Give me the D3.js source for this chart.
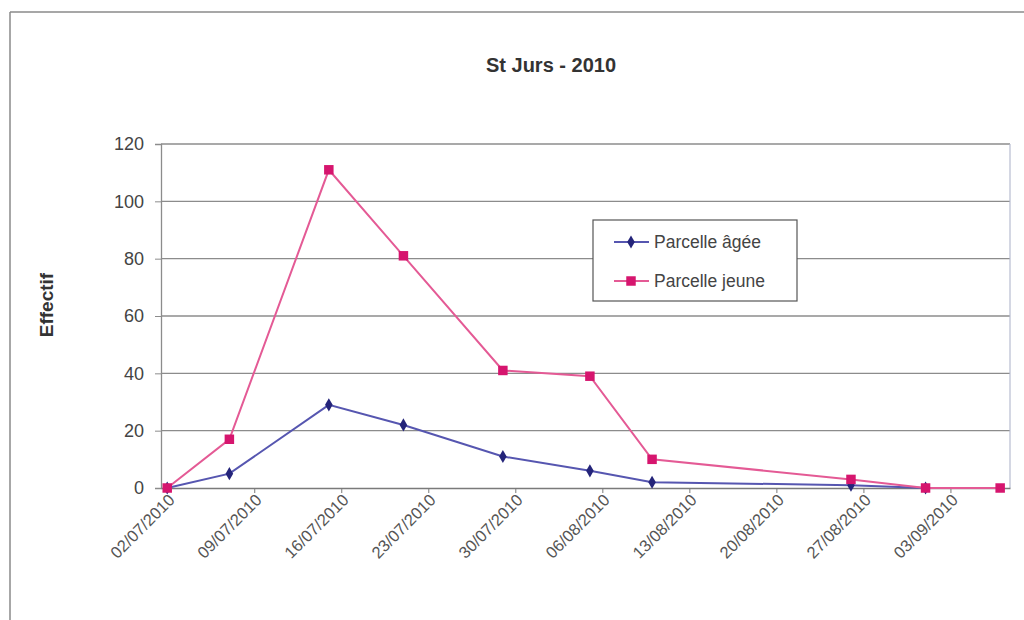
<!DOCTYPE html>
<html>
<head>
<meta charset="utf-8">
<script src="https://cdn.jsdelivr.net/npm/d3@7/dist/d3.min.js"></script>
<style>
  html, body { margin: 0; padding: 0; background: #fff; }
  svg { display: block; }
  text { font-family: Arial, "Liberation Sans", sans-serif; }
</style>
</head>
<body>
<svg id="chart" width="1024" height="620"></svg>
<script>
// ---- data ----
const title = "St Jurs - 2010";
const yLabel = "Effectif";
const seriesNames = ["Parcelle âgée", "Parcelle jeune"];
const datesAgee = ["2010-07-02","2010-07-07","2010-07-15","2010-07-21","2010-07-29","2010-08-05","2010-08-10","2010-08-26","2010-09-01"];
const valuesAgee = [0, 5, 29, 22, 11, 6, 2, 1, 0];
const datesJeune = ["2010-07-02","2010-07-07","2010-07-15","2010-07-21","2010-07-29","2010-08-05","2010-08-10","2010-08-26","2010-09-01","2010-09-07"];
const valuesJeune = [0, 17, 111, 81, 41, 39, 10, 3, 0, 0];
const xTickDates = ["2010-07-02","2010-07-09","2010-07-16","2010-07-23","2010-07-30","2010-08-06","2010-08-13","2010-08-20","2010-08-27","2010-09-03"];
const xDomain = ["2010-07-01 12:00","2010-09-07 19:00"];
const yTicks = [0, 20, 40, 60, 80, 100, 120];

// ---- setup ----
const parse = d3.timeParse("%Y-%m-%d");
const parseT = d3.timeParse("%Y-%m-%d %H:%M");
const fmt = d3.timeFormat("%d/%m/%Y");
const svg = d3.select("#chart");

const plot = {left: 161, top: 144, right: 1010, bottom: 488};
const x = d3.scaleTime().domain(xDomain.map(parseT)).range([plot.left, plot.right]);
const y = d3.scaleLinear().domain([0, 120]).range([plot.bottom, plot.top]);

// outer frame (scanned chart border)
svg.append("line").attr("x1", 10).attr("x2", 1024).attr("y1", 12).attr("y2", 12)
  .attr("stroke", "#8a8a8a").attr("stroke-width", 1.5);
svg.append("line").attr("x1", 10).attr("x2", 10).attr("y1", 12).attr("y2", 620)
  .attr("stroke", "#8a8a8a").attr("stroke-width", 1.5);

// title
svg.append("text").attr("x", 551).attr("y", 72).attr("text-anchor", "middle")
  .attr("font-size", 20).attr("font-weight", "bold").attr("fill", "#333").text(title);

// y label
svg.append("text").attr("transform", "translate(53,305) rotate(-90)")
  .attr("text-anchor", "middle").attr("font-size", 19).attr("font-weight", "bold")
  .attr("fill", "#333").text(yLabel);

// gridlines
svg.append("g").selectAll("line").data(yTicks.filter(d => d > 0)).join("line")
  .attr("x1", plot.left).attr("x2", plot.right)
  .attr("y1", d => y(d)).attr("y2", d => y(d))
  .attr("stroke", "#8c8c8c").attr("stroke-width", 1.3);

// plot right border
svg.append("line").attr("x1", plot.right).attr("x2", plot.right)
  .attr("y1", plot.top).attr("y2", plot.bottom).attr("stroke", "#b8bcd0").attr("stroke-width", 1.2);

// y axis
const yAxis = d3.axisLeft(y).tickValues(yTicks).tickSize(6).tickPadding(11);
const gy = svg.append("g").attr("transform", `translate(${plot.left},0)`).call(yAxis);
gy.select(".domain").attr("stroke", "#8c8c8c").attr("stroke-width", 1.3);
gy.selectAll(".tick line").attr("stroke", "#8c8c8c");
gy.selectAll(".tick text").attr("font-size", 18).attr("fill", "#444")
  .attr("font-family", "Arial, 'Liberation Sans', sans-serif");

// x axis
const xAxis = d3.axisBottom(x).tickValues(xTickDates.map(parse)).tickFormat(fmt).tickSize(5).tickSizeOuter(0);
const gx = svg.append("g").attr("transform", `translate(0,${plot.bottom})`).call(xAxis);
gx.select(".domain").attr("stroke", "#7a7a7a").attr("stroke-width", 1.6);
gx.selectAll(".tick line").attr("stroke", "#7a7a7a");
gx.selectAll(".tick text")
  .attr("font-size", 16.5).attr("fill", "#555")
  .attr("font-family", "Arial, 'Liberation Sans', sans-serif")
  .attr("text-anchor", "end")
  .attr("dy", 0).attr("y", 0)
  .attr("transform", "translate(8,13) rotate(-45)");

// series
const agee = datesAgee.map((d, i) => ({date: parse(d), v: valuesAgee[i]}));
const jeune = datesJeune.map((d, i) => ({date: parse(d), v: valuesJeune[i]}));
const line = d3.line().x(d => x(d.date)).y(d => y(d.v));

const pinkLine = "#e45a95", pinkMark = "#d6156e";
const blueLine = "#5656b0", blueMark = "#24247a";

svg.append("path").datum(agee).attr("d", line).attr("fill", "none")
  .attr("stroke", blueLine).attr("stroke-width", 2);
svg.append("path").datum(jeune).attr("d", line).attr("fill", "none")
  .attr("stroke", pinkLine).attr("stroke-width", 2);

const diamond = d3.symbol().type(d3.symbolDiamond).size(50);
const square = d3.symbol().type(d3.symbolSquare).size(90);

svg.append("g").selectAll("path").data(agee).join("path")
  .attr("d", diamond).attr("transform", d => `translate(${x(d.date)},${y(d.v)})`)
  .attr("fill", blueMark);
svg.append("g").selectAll("path").data(jeune).join("path")
  .attr("d", square).attr("transform", d => `translate(${x(d.date)},${y(d.v)})`)
  .attr("fill", pinkMark);

// legend
const lg = svg.append("g");
lg.append("rect").attr("x", 593).attr("y", 220).attr("width", 204).attr("height", 81)
  .attr("fill", "#fff").attr("stroke", "#555").attr("stroke-width", 1.2);
const items = [
  {name: seriesNames[0], line: blueLine, mark: blueMark, sym: diamond, y: 242},
  {name: seriesNames[1], line: pinkLine, mark: pinkMark, sym: square, y: 281}
];
items.forEach(it => {
  lg.append("line").attr("x1", 614).attr("x2", 649).attr("y1", it.y).attr("y2", it.y)
    .attr("stroke", it.line).attr("stroke-width", 2);
  lg.append("path").attr("d", it.sym).attr("transform", `translate(631,${it.y})`).attr("fill", it.mark);
  lg.append("text").attr("x", 654).attr("y", it.y + 6).attr("font-size", 17.5)
    .attr("fill", "#444").text(it.name);
});
</script>
</body>
</html>
